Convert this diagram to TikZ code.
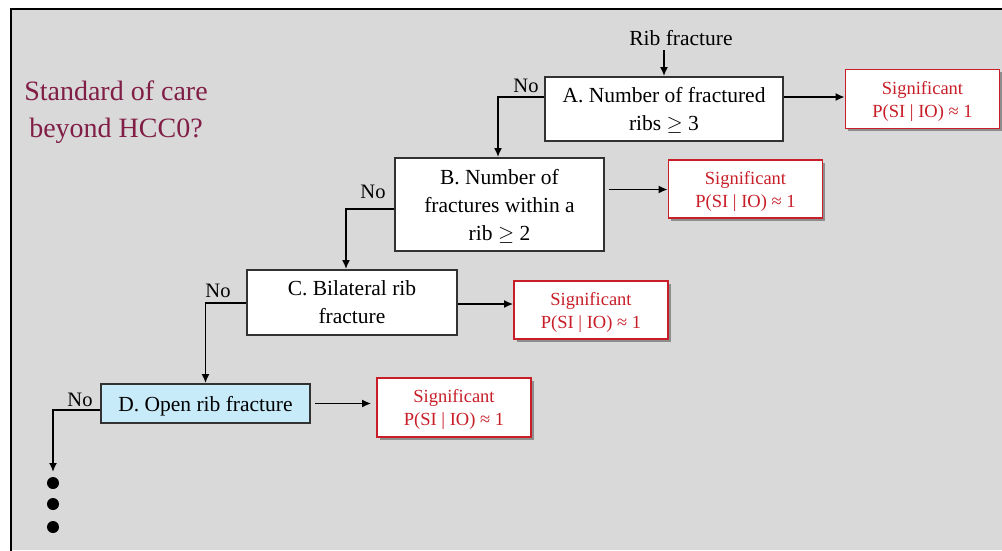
\documentclass[tikz,border=0pt]{standalone}
\usepackage{fontspec}
\setmainfont{Liberation Serif}
\usetikzlibrary{arrows.meta,shadows}
\definecolor{bggray}{RGB}{217,217,217}
\definecolor{titlecol}{RGB}{128,30,70}
\definecolor{sigred}{RGB}{200,30,40}
\definecolor{boxline}{RGB}{50,50,50}
\definecolor{dblue}{RGB}{200,235,250}
\begin{document}
\begin{tikzpicture}[x=1pt,y=-1pt,
  decision/.style={draw=boxline, line width=1.8pt, fill=white, align=center, inner sep=0pt, text depth=0pt, font=\fontsize{21.5}{28}\selectfont},
  sigbox/.style={draw=sigred, line width=1.6pt, fill=white, text=sigred, align=center, inner sep=0pt, text depth=0pt, minimum width=154pt, minimum height=59pt, font=\fontsize{18.5}{23}\selectfont, drop shadow={shadow xshift=2.5pt, shadow yshift=-2.5pt, opacity=0.35, fill=black}},
  arr/.style={draw=black, line width=1.8pt, -{Latex[length=9pt,width=8pt]}},
  nolab/.style={font=\fontsize{20.5}{24}\selectfont, inner sep=0pt},
  dotmark/.style={fill=black, circle, inner sep=0pt, minimum size=12pt},
]
\useasboundingbox (0,0) rectangle (1002,550);
\fill[white] (0,0) rectangle (1002,550);
\fill[bggray] (11,9) rectangle (1002,550);
\draw[line width=2.5pt] (11,551) -- (11,9) -- (1003,9);

% title
\node[text=titlecol, align=center, font=\fontsize{28}{37}\selectfont] (title) at (116,112) {Standard of care\\beyond HCC0?};

% decisions
\node[decision, minimum width=238pt, minimum height=64pt] (A) at (664,109) {A. Number of fractured\\ribs $\geq$ 3};
\node[decision, minimum width=209pt, minimum height=93pt] (B) at (499.5,204.5) {B. Number of\\fractures within a\\rib $\geq$ 2};
\node[decision, minimum width=210pt, minimum height=65pt] (C) at (352,302.5) {C. Bilateral rib\\fracture};
\node[decision, fill=dblue, minimum width=209pt, minimum height=39pt] (D) at (205.5,403.5) {D. Open rib fracture};

% significant boxes
\node[sigbox] (SA) at (922.5,99) {Significant\\P(SI | IO) ≈ 1};
\node[sigbox, minimum height=58pt] (SB) at (745.5,189) {Significant\\P(SI | IO) ≈ 1};
\node[sigbox, minimum height=58pt] (SC) at (591,310) {Significant\\P(SI | IO) ≈ 1};
\node[sigbox] (SD) at (454,407.5) {Significant\\P(SI | IO) ≈ 1};

% start
\node[font=\fontsize{21.5}{26}\selectfont, inner sep=0pt] (rib) at (681,38) {Rib fracture};
\coordinate (ribend) at (664,50);
\draw[arr] (ribend) -- (A.north);

% yes arrows
\draw[arr] ([yshift=12pt]A.east) -- ([yshift=12pt]A.east -| SA.west);
\draw[arr, shorten <=4pt] ([yshift=15pt]B.east) -- ([yshift=15pt]B.east -| SB.west);
\draw[arr] ([yshift=-1.5pt]C.east) -- ([yshift=-1.5pt]C.east -| SC.west);
\draw[arr, shorten <=4pt, shorten >=5pt] (D.east) -- (D.east -| SD.west);

% no arrows
\node[nolab] (noA) at (526,86) {No};
\node[nolab] (noB) at (373,192) {No};
\node[nolab] (noC) at (218,291) {No};
\node[nolab] (noD) at (80,400) {No};
\draw[arr] ([yshift=12pt]A.west) -| ([xshift=-1.5pt]B.north);
\draw[arr] ([yshift=-4.5pt]B.west) -| ([xshift=-6pt]C.north);
\draw[arr] ([yshift=-0.5pt]C.west) -| (D.north);
\coordinate (cont) at (53,472);
\draw[arr] ([yshift=-6.5pt]D.west) -| (cont);

% continuation dots
\node[dotmark] (d1) at (53,483) {};
\node[dotmark] (d2) at (53,504) {};
\node[dotmark] (d3) at (53,527) {};
\end{tikzpicture}
\end{document}
